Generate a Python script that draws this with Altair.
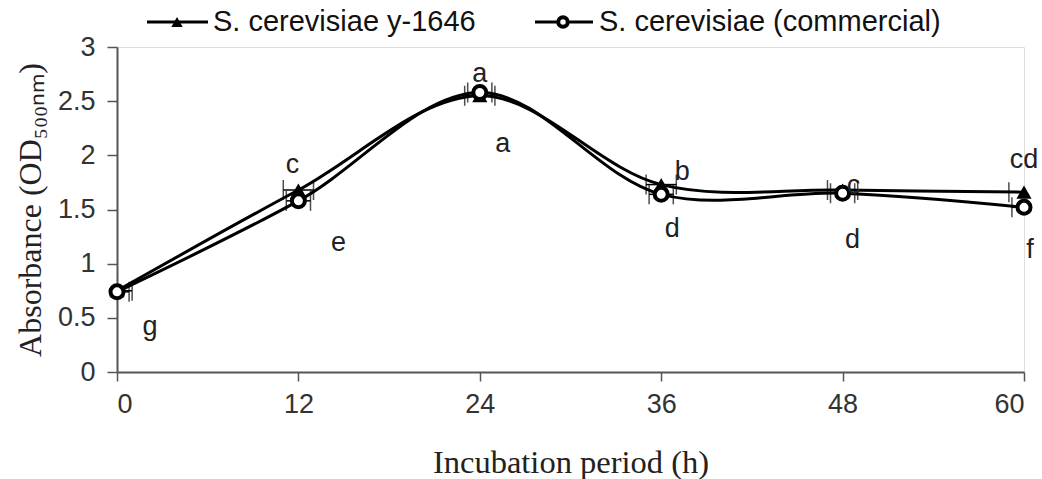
import altair as alt
import pandas as pd

# Growth of two yeast strains over incubation time
hours = [0, 12, 24, 36, 48, 60]
od_y1646 = [0.75, 1.68, 2.55, 1.73, 1.68, 1.66]
od_commercial = [0.74, 1.58, 2.58, 1.64, 1.65, 1.52]
# horizontal error half-width (h)
err_y1646 = [1.0, 1.0, 1.0, 1.0, 1.0, 1.0]
err_commercial = [0.8, 0.8, 0.8, 0.8, 0.8, 0.8]
series = ["S. cerevisiae y-1646", "S. cerevisiae (commercial)"]

# significance letters and their offsets from the point (px)
letters_y1646 = ["", "c", "a", "b", "c", "cd"]
dx_y1646 = [0, -6, 0, 21, 11, 0]
dy_y1646 = [0, -25, -22, -13, -4, -32]
letters_commercial = ["g", "e", "a", "d", "d", "f"]
dx_commercial = [33, 40, 23, 11, 10, 6]
dy_commercial = [35, 42, 51, 35, 47, 43]

SANS = "Liberation Sans"
SERIF = "Liberation Serif"

df = pd.DataFrame({
    "hour": hours * 2,
    "od": od_y1646 + od_commercial,
    "err": err_y1646 + err_commercial,
    "strain": [series[0]] * 6 + [series[1]] * 6,
})

x_scale = alt.Scale(domain=[0, 60], nice=False, zero=False)
y_scale = alt.Scale(domain=[0, 3], nice=False)

x_enc = alt.X(
    "hour:Q", scale=x_scale,
    axis=alt.Axis(values=hours, title="Incubation period (h)", grid=False,
                  labelFont=SANS, labelFontSize=27, labelColor="#333333",
                  labelPadding=10, tickSize=9, tickColor="#555555",
                  domainColor="#555555", domainWidth=2, tickWidth=1.5,
                  titleFont=SERIF, titleFontSize=32.5, titleFontWeight="normal",
                  titleColor="#222222", titleY=90, titleBaseline="middle"),
)
y_enc = alt.Y(
    "od:Q", scale=y_scale,
    axis=alt.Axis(values=[0, 0.5, 1, 1.5, 2, 2.5, 3], format="~g",
                  title="Absorbance (OD₅₀₀ₙₘ)",
                  grid=False, labelFont=SANS, labelFontSize=27,
                  labelColor="#333333", labelPadding=12, tickSize=10,
                  tickColor="#555555", domainColor="#555555", domainWidth=2,
                  tickWidth=1.5, titleFont=SERIF, titleFontSize=32,
                  titleFontWeight="normal", titleColor="#222222",
                  titleX=-87, titleAngle=270, titleBaseline="middle",
                  titleAlign="center"),
)

base = alt.Chart(df)

lines = base.mark_line(
    interpolate="catmull-rom", color="black", strokeWidth=3, clip=True
).encode(x=x_enc, y=y_enc, detail="strain:N")

err_rule = base.transform_calculate(
    lo="datum.hour - datum.err", hi="datum.hour + datum.err"
).mark_rule(color="black", strokeWidth=1.5, clip=True).encode(
    x="lo:Q", x2="hi:Q", y="od:Q"
)
cap_lo = base.transform_calculate(xpos="datum.hour - datum.err").mark_tick(
    orient="vertical", color="black", size=20, thickness=1.5, clip=True
).encode(x="xpos:Q", y="od:Q")
cap_hi = base.transform_calculate(xpos="datum.hour + datum.err").mark_tick(
    orient="vertical", color="black", size=20, thickness=1.5, clip=True
).encode(x="xpos:Q", y="od:Q")

tri_pts = base.transform_filter(alt.datum.strain == series[0]).mark_point(
    shape="triangle-up", filled=True, color="black", size=230, opacity=1
).encode(x="hour:Q", y="od:Q")
circ_pts = base.transform_filter(alt.datum.strain == series[1]).mark_point(
    shape="circle", filled=False, fill="white", stroke="black", strokeWidth=4,
    size=170, opacity=1, fillOpacity=1
).encode(x="hour:Q", y="od:Q")

# significance letters, one text layer per letter so each gets its own offset
label_layers = []
for vals, letters, dxs, dys in [
    (od_y1646, letters_y1646, dx_y1646, dy_y1646),
    (od_commercial, letters_commercial, dx_commercial, dy_commercial),
]:
    for h, v, t, dx, dy in zip(hours, vals, letters, dxs, dys):
        if not t:
            continue
        label_layers.append(
            alt.Chart(pd.DataFrame({"hour": [h], "od": [v], "letter": [t]}))
            .mark_text(font=SANS, fontSize=27, color="#222222", align="center",
                       baseline="middle", dx=dx, dy=dy)
            .encode(x="hour:Q", y="od:Q", text="letter:N")
        )

# legend drawn above the plot area
leg_df = pd.DataFrame({"name": series})
leg1 = alt.Chart(leg_df.iloc[[0]])
leg2 = alt.Chart(leg_df.iloc[[1]])
legend = alt.layer(
    leg1.mark_rule(color="black", strokeWidth=3).encode(
        x=alt.value(30), x2=alt.value(91), y=alt.value(-25)),
    leg1.mark_point(shape="triangle-up", filled=True, color="black", size=130, opacity=1).encode(
        x=alt.value(60), y=alt.value(-25)),
    leg1.mark_text(font=SANS, fontSize=29, align="left", baseline="middle", color="#111111").encode(
        x=alt.value(96), y=alt.value(-25), text="name:N"),
    leg2.mark_rule(color="black", strokeWidth=3).encode(
        x=alt.value(418), x2=alt.value(476), y=alt.value(-25)),
    leg2.mark_point(shape="circle", filled=False, fill="white", stroke="black", strokeWidth=4,
                    size=90, opacity=1, fillOpacity=1).encode(
        x=alt.value(446), y=alt.value(-25)),
    leg2.mark_text(font=SANS, fontSize=29, align="left", baseline="middle", color="#111111").encode(
        x=alt.value(482), y=alt.value(-25), text="name:N"),
)

chart = alt.layer(
    lines, err_rule, cap_lo, cap_hi, tri_pts, circ_pts, *label_layers, legend
).properties(
    width=907, height=325,
    autosize=alt.AutoSizeParams(type="none"),
    padding={"left": 117, "top": 47, "right": 18, "bottom": 107},
).configure_view(stroke=None).configure(background="white")

chart.save("out.html", embed_options={"renderer": "svg", "actions": False})
